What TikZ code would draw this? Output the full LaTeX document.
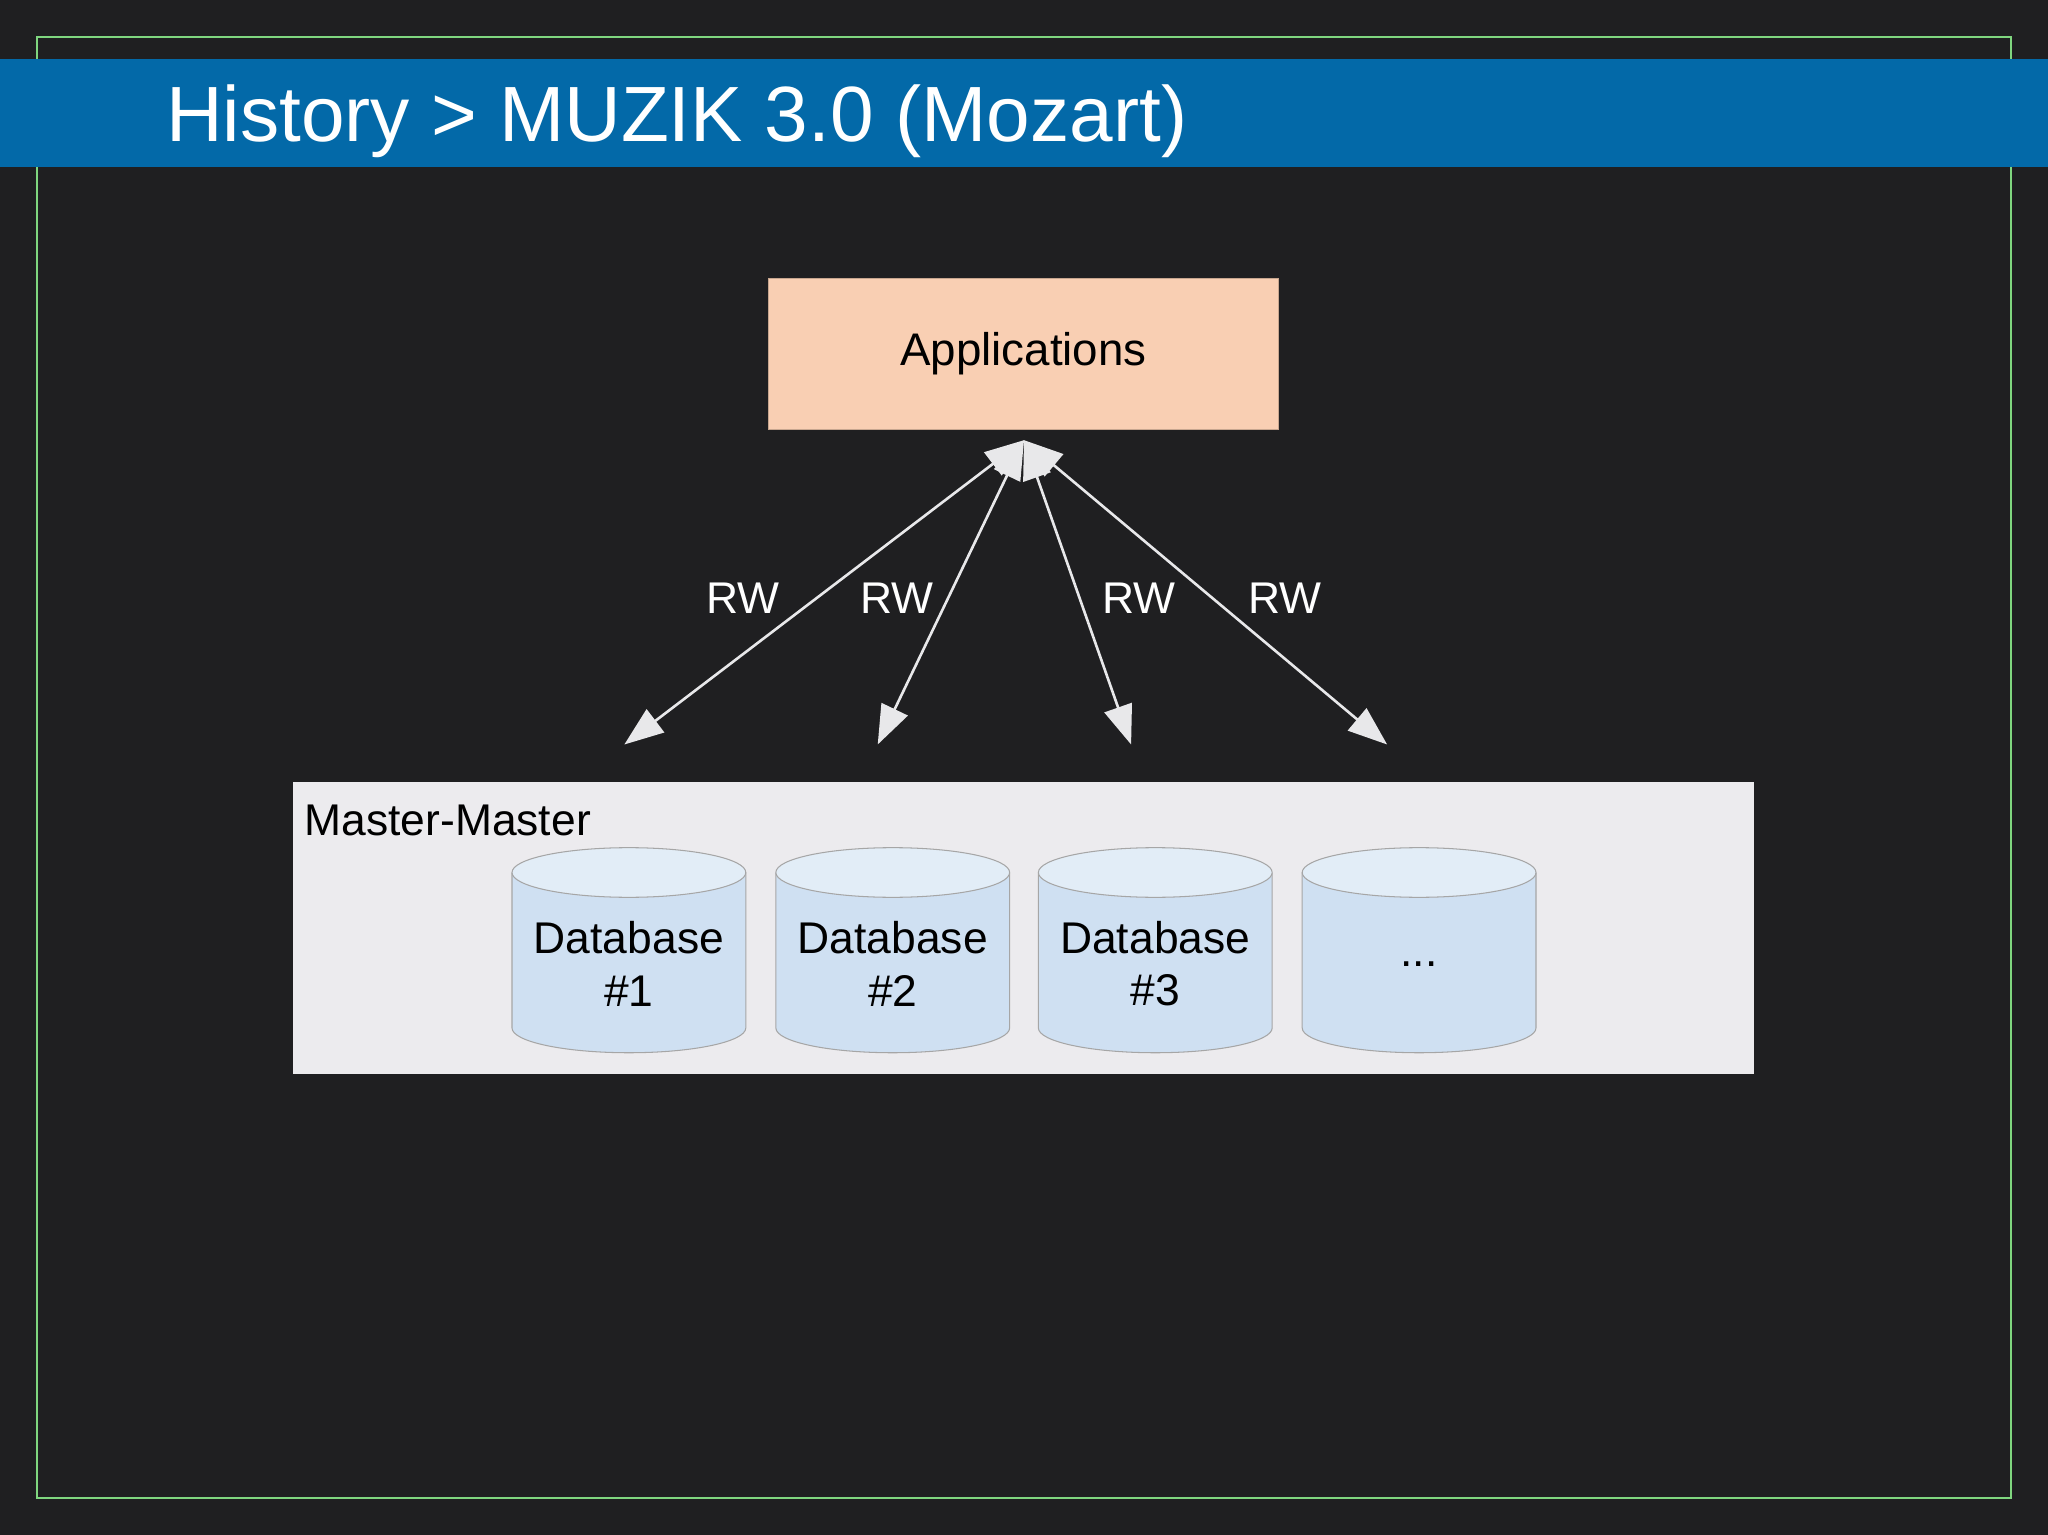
\documentclass[tikz,border=0pt]{standalone}
\usepackage{fontspec}
\setmainfont{Liberation Sans}
\usetikzlibrary{arrows.meta}
\definecolor{bg}{HTML}{1F1F21}
\definecolor{frame}{HTML}{7FD67F}
\definecolor{banner}{HTML}{0369A8}
\definecolor{appfill}{HTML}{F9CFB3}
\definecolor{mmfill}{HTML}{ECEBEE}
\definecolor{cylfill}{HTML}{CFE0F2}
\definecolor{cyltop}{HTML}{E2EDF7}
\definecolor{arrowc}{HTML}{E8E8EA}
\tikzset{
  rw/.style={draw=arrowc, line width=2pt, {Triangle[width=22pt,length=30pt]}-{Triangle[width=22pt,length=30pt]}},
  lbl/.style={text=white, font=\fontsize{34}{40}\selectfont},
  dbtext/.style={align=center, font=\fontsize{34}{40}\selectfont, text=black},
}
\newcommand{\mycyl}[3]{% left x, name, text
  \fill[cylfill] (#1,-668) -- (#1,-787) arc[start angle=180,end angle=360,x radius=89.5,y radius=19] -- (#1+179,-668) -- cycle;
  \draw[gray!70, line width=0.8pt] (#1,-668) -- (#1,-787) arc[start angle=180,end angle=360,x radius=89.5,y radius=19] -- (#1+179,-668);
  \draw[gray!70, line width=0.8pt, fill=cyltop] (#1+89.5,-668) ellipse[x radius=89.5, y radius=19];
  \node[dbtext] (#2) at (#1+89.5,-738) {#3};
}
\begin{document}
\begin{tikzpicture}[x=1pt,y=1pt]
\fill[bg] (0,0) rectangle (1568,-1175);
\useasboundingbox (0,0) rectangle (1568,-1175);
\draw[frame, line width=1.5pt] (28,-28) rectangle (1540,-1147);
\fill[banner] (0,-45) rectangle (1568,-128);
\node[anchor=base west, text=white, font=\fontsize{60}{70}\selectfont, inner sep=0] (title) at (127,-108) {History > MUZIK 3.0 (Mozart)};
\node[fill=appfill, draw=appfill!80!black, minimum width=391pt, minimum height=116pt, font=\fontsize{35}{40}\selectfont, text=black] (apps) at (783.5,-271) {Applications};
\coordinate (top) at (784,-337);
\coordinate (e1) at (478,-570);
\coordinate (e2) at (672,-570);
\coordinate (e3) at (866,-570);
\coordinate (e4) at (1062,-570);
\draw[rw] (top) -- (e1);
\draw[rw] (top) -- (e2);
\draw[rw] (top) -- (e3);
\draw[rw] (top) -- (e4);
\node[lbl] (r1) at (569,-458) {RW};
\node[lbl] (r2) at (687,-458) {RW};
\node[lbl] (r3) at (872,-458) {RW};
\node[lbl] (r4) at (984,-458) {RW};
\fill[mmfill] (224,-599) rectangle (1343,-822);
\node[anchor=base west, inner sep=0, font=\fontsize{34}{40}\selectfont, text=black] (mm) at (233,-640) {Master-Master};
\mycyl{392}{db1}{Database\\\#1}
\mycyl{594}{db2}{Database\\\#2}
\mycyl{795}{db3}{Database\\\#3}
\mycyl{997}{db4}{...}
\end{tikzpicture}
\end{document}
